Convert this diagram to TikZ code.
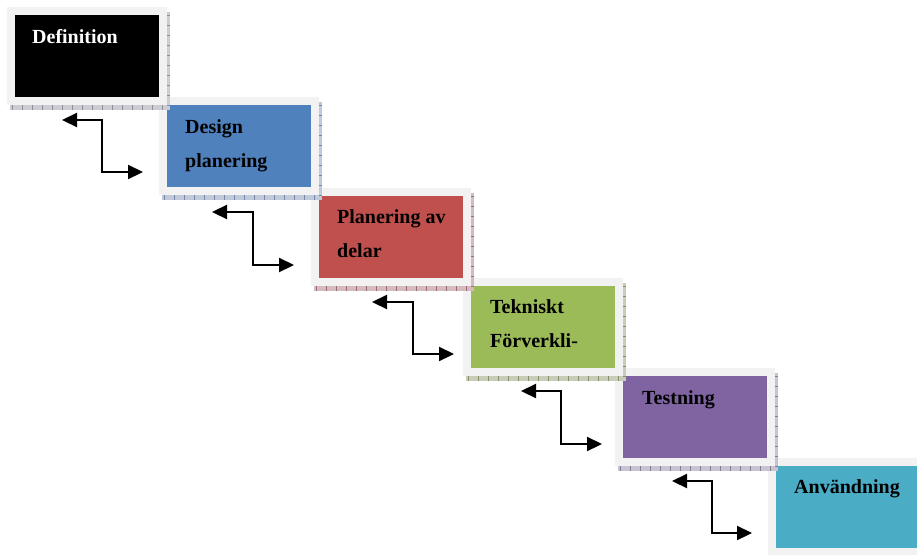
\documentclass[tikz,border=0pt]{standalone}
\usepackage{fontspec}
\setmainfont{Liberation Serif}
\usetikzlibrary{arrows.meta}
\definecolor{frameGray}{HTML}{F2F2F2}
\definecolor{cDef}{HTML}{000000}
\definecolor{cDes}{HTML}{4F81BD}
\definecolor{cPla}{HTML}{C0504D}
\definecolor{cTek}{HTML}{9BBB59}
\definecolor{cTes}{HTML}{8064A2}
\definecolor{cAnv}{HTML}{4BACC6}
\definecolor{sDef}{HTML}{8E8E9C}
\definecolor{sDes}{HTML}{7487A8}
\definecolor{sPla}{HTML}{A06870}
\definecolor{sTek}{HTML}{868F66}
\definecolor{sTes}{HTML}{857A96}
\newcommand\wfframe[4]{% name, X, Y, fill
  \fill[frameGray] (#2-8,#3-8) rectangle (#2+152,#3+90);
  \node[innerbox, fill=#4] (#1) at (#2,#3) {};
}
\newcommand\wfstrip[3]{% X, Y, strip colour
  \fill[#3!45!white] (#1+152,#2-3) rectangle (#1+155,#2+95);
  \fill[#3!45!white] (#1-5,#2+90) rectangle (#1+155,#2+95);
  \draw[#3, line width=5pt, dash pattern=on 1pt off 9pt] (#1-3,#2+92.5) -- (#1+155,#2+92.5);
  \draw[#3, line width=3pt, dash pattern=on 1pt off 9pt] (#1+153.5,#2) -- (#1+153.5,#2+95);
}
\begin{document}
\begin{tikzpicture}[x=1pt,y=-1pt,
  innerbox/.style={draw=none, minimum width=144pt, minimum height=82pt, inner sep=0pt, anchor=north west},
  steplabel/.style={font=\fontsize{20}{34}\selectfont\bfseries, align=left, anchor=base west, inner sep=0pt},
  link/.style={line width=2.2pt, {Triangle[length=15pt,width=14pt]}-{Triangle[length=15pt,width=14pt]}}
]
\useasboundingbox (0,0) rectangle (917,554);
\clip (0,0) rectangle (917,554);

\wfframe{b1}{15}{15}{cDef}
\wfframe{b2}{167}{105}{cDes}
\wfframe{b3}{319}{196}{cPla}
\wfframe{b4}{471}{286}{cTek}
\wfframe{b5}{623}{376}{cTes}
\wfframe{b6}{776}{466}{cAnv}

\wfstrip{15}{15}{sDef}
\wfstrip{167}{105}{sDes}
\wfstrip{319}{196}{sPla}
\wfstrip{471}{286}{sTek}
\wfstrip{623}{376}{sTes}

% anchor base west = baseline of the last line
\node[steplabel, text=white] (t1) at (32,43) {Definition};
\node[steplabel] (t2) at (185,167) {Design\\planering};
\node[steplabel] (t3) at (337,257) {Planering av\\delar};
\node[steplabel] (t4) at (490,347) {Tekniskt\\Förverkli-};
\node[steplabel] (t5) at (642,404) {Testning};
\node[steplabel] (t6) at (794,493) {Användning};

\coordinate (a1s) at (62,120);  \coordinate (a1c) at (102,172); \coordinate (a1e) at (143,172);
\coordinate (a2s) at (212,212); \coordinate (a2c) at (253,265); \coordinate (a2e) at (294,265);
\coordinate (a3s) at (372,302); \coordinate (a3c) at (413,354); \coordinate (a3e) at (454,354);
\coordinate (a4s) at (521,391); \coordinate (a4c) at (561,444); \coordinate (a4e) at (602,444);
\coordinate (a5s) at (672,481); \coordinate (a5c) at (712,533); \coordinate (a5e) at (752,533);
\foreach \i in {1,...,5}{
  \draw[link] (a\i s) -| (a\i c) -- (a\i e);
}
\end{tikzpicture}
\end{document}
